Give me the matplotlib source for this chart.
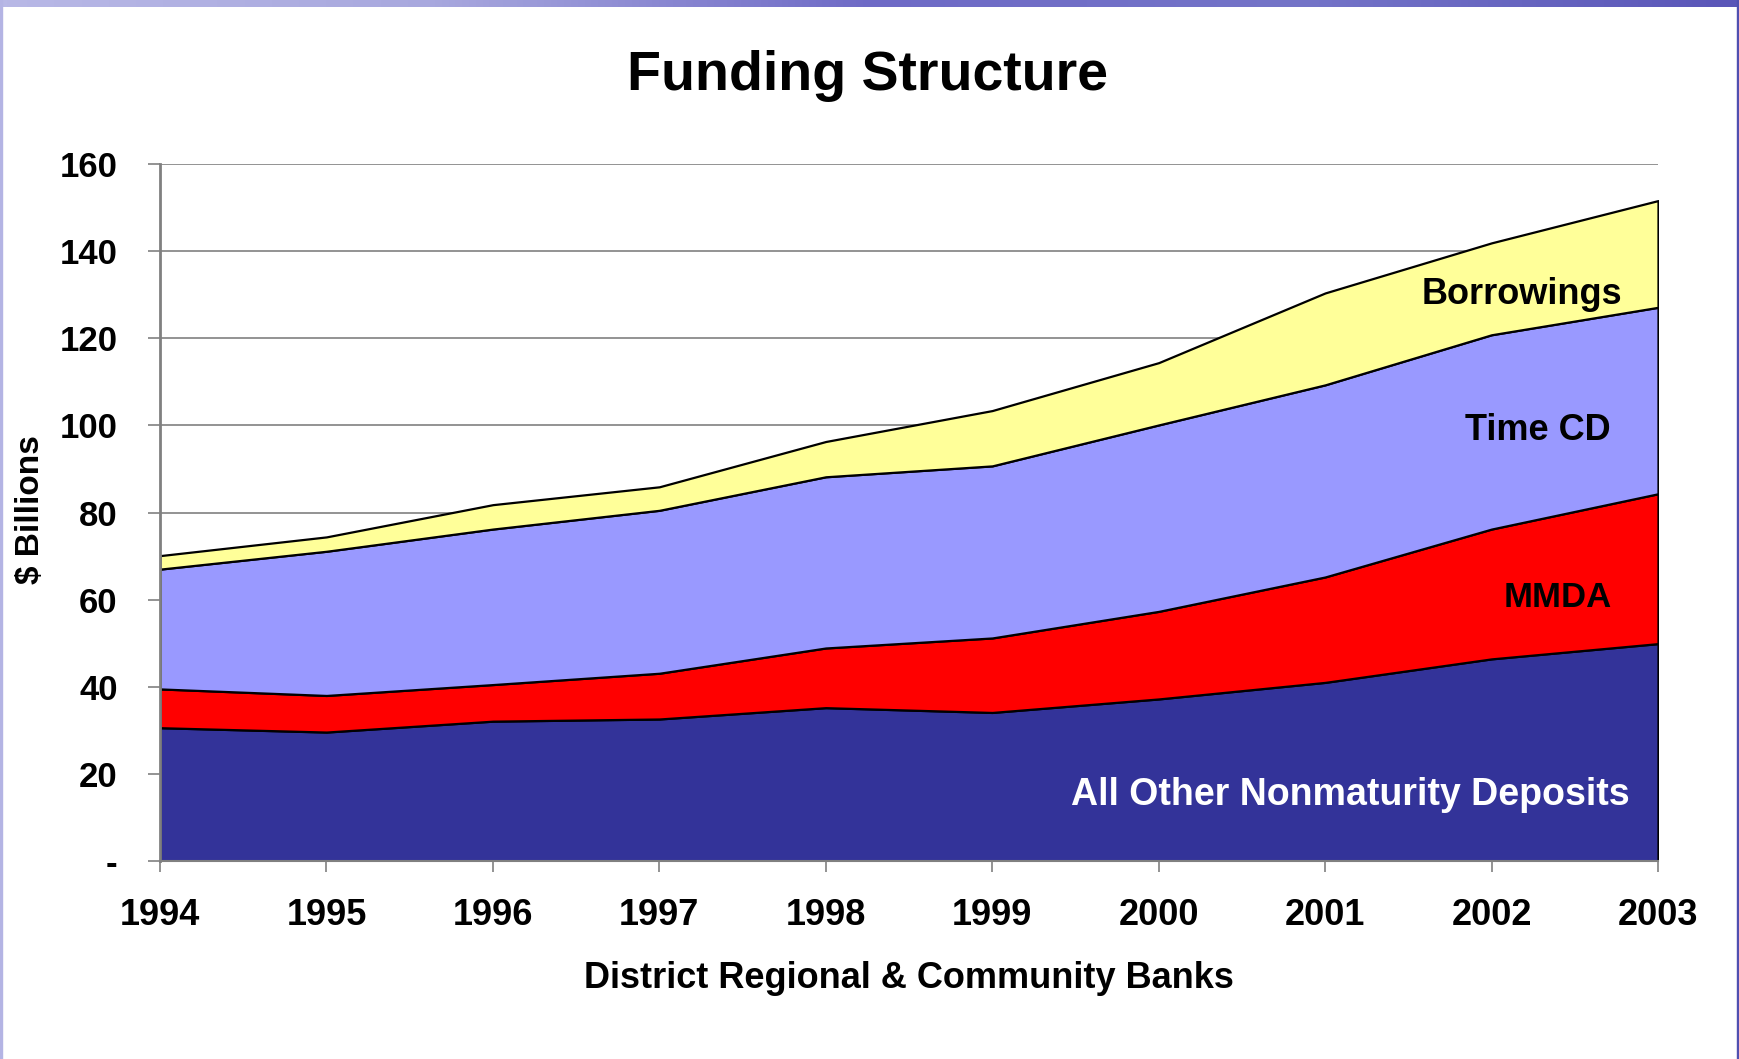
import matplotlib.pyplot as plt
import numpy as np
from matplotlib.colors import LinearSegmentedColormap

years = [1994, 1995, 1996, 1997, 1998, 1999, 2000, 2001, 2002, 2003]
nonmaturity = [30.6, 29.6, 32.1, 32.6, 35.2, 34.1, 37.2, 41.0, 46.4, 49.9]
mmda = [8.9, 8.4, 8.4, 10.5, 13.7, 17.1, 20.1, 24.2, 29.8, 34.4]
time_cd = [27.5, 33.1, 35.7, 37.4, 39.3, 39.5, 42.8, 44.1, 44.6, 42.8]
borrowings = [3.1, 3.3, 5.6, 5.4, 8.1, 12.7, 14.3, 21.1, 21.1, 24.5]
yticks = [0, 20, 40, 60, 80, 100, 120, 140, 160]
ytick_labels = ["-", "20", "40", "60", "80", "100", "120", "140", "160"]

plt.rcParams['font.family'] = ['Liberation Sans', 'DejaVu Sans']
plt.rcParams['font.weight'] = 'bold'

fig = plt.figure(figsize=(17.4, 10.59), dpi=100)

# frame: gradient bar on top, thin borders on the sides
bar = fig.add_axes([0, 1 - 7 / 1059, 1, 7 / 1059])
grad = np.linspace(0, 1, 256).reshape(1, -1)
cmap = LinearSegmentedColormap.from_list("bar", ["#b8b8e6", "#a8a8de", "#6e6ac6", "#7474c8", "#5a56b8"])
bar.imshow(grad, aspect="auto", cmap=cmap)
bar.axis("off")
fig.patches.append(plt.Rectangle((0, 0), 2 / 1740, 1, transform=fig.transFigure, color="#b4b4e4"))
fig.patches.append(plt.Rectangle((1 - 3 / 1740, 0), 3 / 1740, 1, transform=fig.transFigure, color="#5050b0"))

ax = fig.add_axes([160 / 1740, 1 - 861 / 1059, (1658 - 160) / 1740, (861 - 164) / 1059])
ax.stackplot(years, nonmaturity, mmda, time_cd, borrowings,
             colors=["#333399", "#ff0000", "#9999ff", "#ffff99"],
             edgecolor="black", linewidth=1.6, zorder=2)

ax.set_xlim(1994, 2003)
ax.set_ylim(0, 160)
ax.set_xticks(years)
ax.set_yticks(yticks)
ax.set_yticklabels(ytick_labels)
ax.grid(axis="y", color="#808080", linewidth=1.2, zorder=0)
ax.set_axisbelow(True)
for s in ["top", "right"]:
    ax.spines[s].set_visible(False)
ax.spines["left"].set_color("#808080")
ax.spines["left"].set_linewidth(2)
ax.spines["bottom"].set_color("#808080")
ax.spines["bottom"].set_linewidth(1.5)
ax.tick_params(axis="y", length=8.5, width=1.2, color="#808080", pad=22, labelsize=25)
ax.tick_params(axis="x", length=8, width=1.2, color="#808080", pad=18.5, labelsize=26)

ax.text(2002.18, 127.9, "Borrowings", ha="center", va="baseline", fontsize=26, fontweight="bold")
ax.text(2002.28, 96.6, "Time CD", ha="center", va="baseline", fontsize=26, fontweight="bold")
ax.text(2002.40, 58.3, "MMDA", ha="center", va="baseline", fontsize=25, fontweight="bold")
ax.text(2001.15, 12.9, "All Other Nonmaturity Deposits", ha="center", va="baseline",
        fontsize=27, fontweight="bold", color="white")

fig.text(868 / 1740, 1 - 90 / 1059, "Funding Structure", ha="center", va="baseline", fontsize=40, fontweight="bold")
fig.text(909 / 1740, 1 - 988 / 1059, "District Regional & Community Banks", ha="center", va="baseline",
         fontsize=26, fontweight="bold")
fig.text(31 / 1740, 1 - 510 / 1059, "$ Billions", ha="center", va="center", rotation=90,
         fontsize=24, fontweight="bold")

plt.savefig("out.png", dpi=100)
